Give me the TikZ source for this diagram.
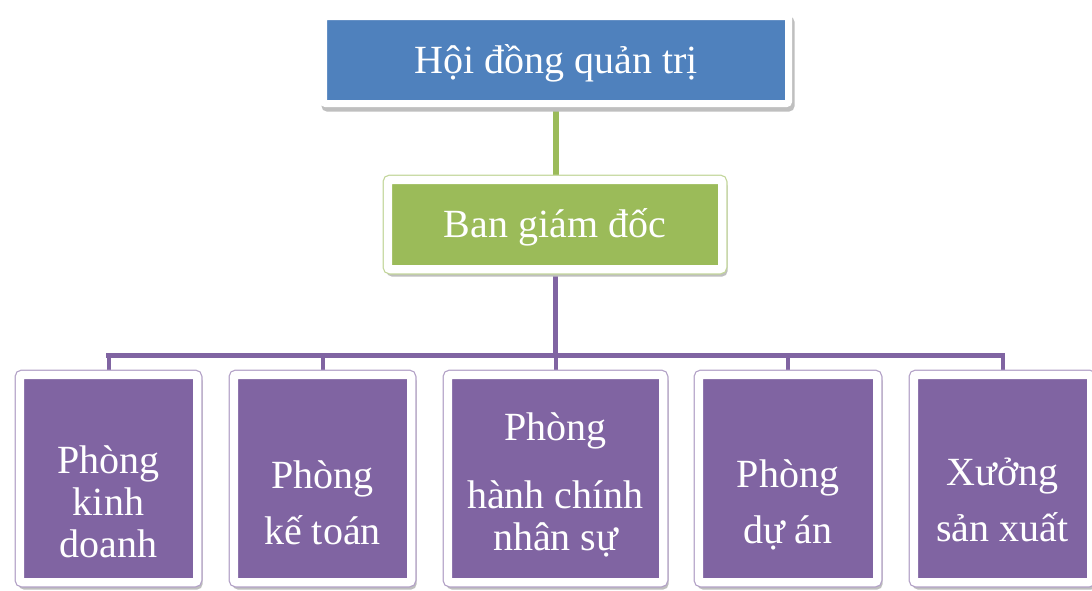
\documentclass[tikz,border=0pt]{standalone}
\usepackage{fontspec}
\setmainfont{Liberation Serif}
\usetikzlibrary{backgrounds}
\definecolor{cblue}{HTML}{4F81BD}
\definecolor{cgreen}{HTML}{9BBB59}
\definecolor{cpurple}{HTML}{8064A2}
\begin{document}
\begin{tikzpicture}[x=1pt,y=-1pt,
  shadowed/.style={preaction={fill=black!25, draw=black!25, line width=8pt, transform canvas={xshift=2pt,yshift=-4pt}}},
  ringed/.style={preaction={draw=#1!60, line width=12pt}, preaction={draw=white, line width=9.5pt}},
  frame/.style={fill=#1, draw=white, line width=7pt, rounded corners=2pt, inner sep=0pt},
  lbl/.style={text=white, font=\fontsize{40}{42}\selectfont, align=center, inner sep=0pt},
  link/.style={line width=5pt, draw=#1},
]
\useasboundingbox (0,0) rectangle (1092,590);

% top levels
\node[frame=cblue, shadowed, minimum width=465pt, minimum height=87pt] (hdqt) at (556,60) {};
\node[lbl, anchor=base] (thdqt) at (556,73) {Hội đồng quản trị};

\node[frame=cgreen, shadowed, ringed=cgreen, minimum width=333pt, minimum height=88pt] (bgd) at (555,224.5) {};
\node[lbl, anchor=base] (tbgd) at (555,237) {Ban giám đốc};

% departments
\node[frame=cpurple, shadowed, ringed=cpurple, minimum width=176pt, minimum height=206pt] (p1) at (108.5,478.5) {};
\node[frame=cpurple, shadowed, ringed=cpurple, minimum width=176pt, minimum height=206pt] (p2) at (322.5,478.5) {};
\node[frame=cpurple, shadowed, ringed=cpurple, minimum width=214pt, minimum height=206pt] (p3) at (555.5,478.5) {};
\node[frame=cpurple, shadowed, ringed=cpurple, minimum width=177pt, minimum height=206pt] (p4) at (788,478.5) {};
\node[frame=cpurple, shadowed, ringed=cpurple, minimum width=176pt, minimum height=206pt] (p5) at (1002.5,478.5) {};

\node[lbl] (t1) at ([yshift=-23pt]p1.center) {Phòng\\kinh\\doanh};
\node[lbl] (t2) at ([yshift=-24pt]p2.center) {Phòng\\[14pt]kế toán};
\node[lbl] (t3) at ([yshift=-6pt]p3.center) {Phòng\\[26pt]hành chính\\nhân sự};
\node[lbl] (t4) at ([yshift=-26pt]p4.center) {Phòng\\[14pt]dự án};
\node[lbl] (t5) at ([yshift=-21pt]p5.center) {Xưởng\\[14pt]sản xuất};

% connectors
\coordinate (bar) at (556,355.5);
\begin{scope}[on background layer]
  \draw[link=cgreen, line width=6pt] (hdqt.south) -- (hdqt.south |- bgd.north);
  \draw[link=cpurple] (bgd.south) -- (bgd.south |- bar);
  \draw[link=cpurple, line cap=rect] (p1.north |- bar) -- (p5.north |- bar);
  \foreach \p in {p1,p2,p3,p4,p5}
    \draw[link=cpurple, line width=4pt] (\p.north |- bar) -- (\p.north);
\end{scope}
\end{tikzpicture}
\end{document}
